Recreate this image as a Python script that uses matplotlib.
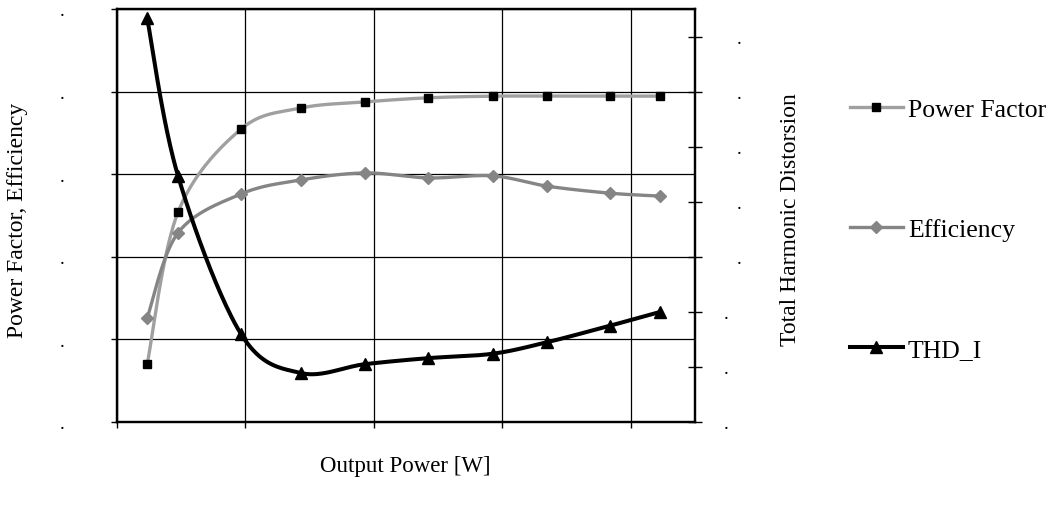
import numpy as np
import matplotlib
matplotlib.use("Agg")
import matplotlib.pyplot as plt
from matplotlib.lines import Line2D
import matplotlib.transforms as mtransforms

plt.rcParams['font.family'] = ['Liberation Serif', 'DejaVu Serif']

# ---- data ----
output_power = [4.7, 9.5, 19.3, 28.6, 38.6, 48.5, 58.5, 67.0, 76.8, 84.6]
power_factor = [14.0, 50.8, 70.9, 76.0, 77.5, 78.5, 78.9, 78.9, 78.9, 78.9]
efficiency = [25.2, 45.8, 55.2, 58.6, 60.3, 59.1, 59.6, 57.1, 55.4, 54.7]
thd_i = [73.3, 44.7, 16.0, 8.9, 10.5, 11.6, 12.4, 14.5, 17.5, 20.0]

series_names = ["Power Factor", "Efficiency", "THD_I"]
x_ticks = [0, 20, 40, 60, 80]
left_ticks = [0, 20, 40, 60, 80, 100]
right_ticks = [0, 10, 20, 30, 40, 50, 60, 70]

W, H = 1056, 506
fig = plt.figure(figsize=(W / 100, H / 100), dpi=100)
L, R, T, B = 117, 695, 10, 423
ax = fig.add_axes([L / W, 1 - B / H, (R - L) / W, (B - T) / H])
ax2 = ax.twinx()

XMAX, Y1MAX, Y2MAX = 90, 100, 75
ax.set_xlim(0, XMAX)
ax.set_ylim(0, Y1MAX)
ax2.set_ylim(0, Y2MAX)

sx = (R - L) / XMAX
sy1 = (B - T) / Y1MAX
sy2 = (B - T) / Y2MAX


def smooth(xs, ys, sx, sy, n=40):
    P = np.column_stack([np.asarray(xs, float) * sx, np.asarray(ys, float) * sy])
    out = [P[0]]
    t = np.linspace(0, 1, n)[1:, None]
    for i in range(len(P) - 1):
        p0 = P[i - 1] if i > 0 else P[i]
        p1, p2 = P[i], P[i + 1]
        p3 = P[i + 2] if i + 2 < len(P) else P[i + 1]
        c1 = p1 + (p2 - p0) / 6
        c2 = p2 - (p3 - p1) / 6
        Bz = (1 - t) ** 3 * p1 + 3 * (1 - t) ** 2 * t * c1 + 3 * (1 - t) * t ** 2 * c2 + t ** 3 * p2
        out.extend(Bz)
    out = np.array(out)
    return out[:, 0] / sx, out[:, 1] / sy


pf_col, eff_col, thd_col = "#a0a0a0", "#858585", "black"

xs, ys = smooth(output_power, power_factor, sx, sy1)
ax.plot(xs, ys, color=pf_col, lw=2.4, zorder=3, solid_capstyle='round')
ax.plot(output_power, power_factor, ls='none', marker='s', ms=5.3, color='black', zorder=5)

xs, ys = smooth(output_power, efficiency, sx, sy1)
ax.plot(xs, ys, color=eff_col, lw=2.4, zorder=3, solid_capstyle='round')
ax.plot(output_power, efficiency, ls='none', marker='D', ms=5.8, color=eff_col, zorder=4)

xs, ys = smooth(output_power, thd_i, sx, sy2)
ax2.plot(xs, ys, color=thd_col, lw=2.9, zorder=3, solid_capstyle='round')
ax2.plot(output_power, thd_i, ls='none', marker='^', ms=9, color=thd_col, zorder=4)

# grid and spines
ax.set_xticks(x_ticks)
ax.set_yticks(left_ticks)
ax2.set_yticks(right_ticks)
ax.grid(True, color='black', lw=0.9)
ax.set_axisbelow(True)
for a in (ax, ax2):
    for s in a.spines.values():
        s.set_linewidth(1.6)
        s.set_color('black')

ax.tick_params(axis='x', direction='out', length=4.5, width=1.0, labelbottom=False)
ax.tick_params(axis='y', direction='out', length=4.5, width=1.0, pad=33, labelsize=14)
ax.set_yticklabels(["."] * len(left_ticks))
ax2.tick_params(axis='y', direction='inout', length=9.5, width=1.0, pad=16, labelsize=14)
ax2.set_yticklabels(["."] * len(right_ticks))
off = mtransforms.ScaledTranslation(13 / 100, 0, fig.dpi_scale_trans)
for lbl in ax2.get_yticklabels()[3:]:
    lbl.set_transform(lbl.get_transform() + off)

# axis titles
fig.text(18 / W, 1 - 220 / H, "Power Factor, Efficiency", rotation=90,
         ha='center', va='center', fontsize=17)
fig.text(791 / W, 1 - 220 / H, "Total Harmonic Distorsion", rotation=90,
         ha='center', va='center', fontsize=17)
fig.text(405 / W, 1 - 467 / H, "Output Power [W]", ha='center', va='center', fontsize=16.5)

# legend
handles = [
    Line2D([], [], color=pf_col, lw=2.4, marker='s', ms=5.3, mfc='black', mec='black'),
    Line2D([], [], color=eff_col, lw=2.4, marker='D', ms=5.8, mfc=eff_col, mec=eff_col),
    Line2D([], [], color=thd_col, lw=2.9, marker='^', ms=9, mfc=thd_col, mec=thd_col),
]
fig.legend(handles, series_names, loc='center left',
           bbox_to_anchor=(850 / W, 1 - 230.5 / H), frameon=False,
           fontsize=18.5, handlelength=2.05, handletextpad=0.2,
           labelspacing=3.78, borderpad=0, borderaxespad=0)

fig.savefig("out.png", dpi=100)
